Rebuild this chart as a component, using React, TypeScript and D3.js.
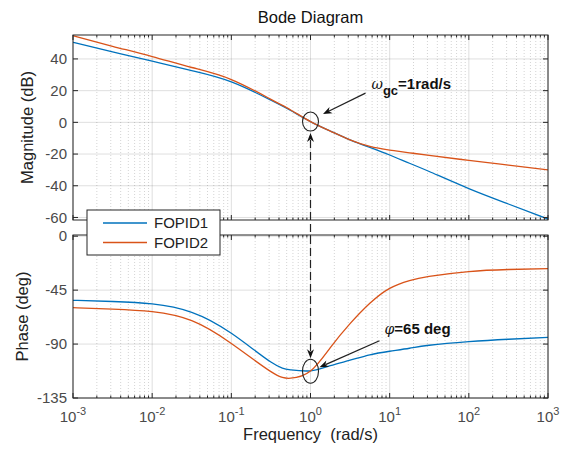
import React from 'react';
import * as d3 from 'd3';

// frequency points (rad/s)
const freqs = [0.001, 0.00316, 0.01, 0.0316, 0.1, 0.316, 0.562, 1, 1.78, 3.16, 5.62, 10, 17.8, 31.6, 100, 316, 1000];

// magnitude (dB)
const magFOPID1 = [50.5, 44.5, 38.6, 32.6, 25.5, 14, 7.5, 0.5, -5.5, -11, -15.8, -20.6, -25.8, -31, -41.8, -51.5, -61];
const magFOPID2 = [54.7, 48, 41.5, 34.6, 27, 14.5, 7.8, 0.5, -5.5, -11, -15.2, -17.5, -19.2, -20.8, -24, -27, -30];

// phase (deg)
const phFOPID1 = [-53.5, -54.5, -56.5, -63.5, -81, -105, -111.5, -112.3, -108, -103.5, -99, -96, -93.5, -91, -88, -86, -84.5];
const phFOPID2 = [-59.6, -60.8, -63, -70.5, -89.5, -113, -118.5, -112.5, -93, -73, -56, -43.5, -37, -33.5, -29.5, -27.8, -27];

const seriesNames = ['FOPID1', 'FOPID2'];
const seriesColors = ['#0072BD', '#D95319'];

const xTickExps = [-3, -2, -1, 0, 1, 2, 3];
const magTicks = [-60, -40, -20, 0, 20, 40];
const phTicks = [-135, -90, -45, 0];

// annotation anchors in data units
const gcFreq = 1;
const gcMag = 0.5;
const pmPhase = -112.7;

const FONT = '"Liberation Sans", Arial, Helvetica, sans-serif';
const W = 570;
const H = 451;

const L = 73, R = 548;
const magTop = 35, magBot = 220;
const phTop = 235, phBot = 398;

const x = d3.scaleLog().domain([1e-3, 1e3]).range([L, R]);
const yMag = d3.scaleLinear().domain([-61.6, 55.1]).range([magBot, magTop]);
const yPh = d3.scaleLinear().domain([-135, 1]).range([phBot, phTop]);

const minorFreqs: number[] = [];
for (let e = -3; e < 3; e++) {
  for (let m = 2; m <= 9; m++) minorFreqs.push(m * Math.pow(10, e));
}

function arrowHead(tx: number, ty: number, fx: number, fy: number, len = 9, wid = 7) {
  const dx = tx - fx, dy = ty - fy;
  const d = Math.hypot(dx, dy);
  const ux = dx / d, uy = dy / d;
  const nx = -uy, ny = ux;
  const bx = tx - ux * len, by = ty - uy * len;
  const mx = tx - ux * len * 0.7, my = ty - uy * len * 0.7;
  return `M${tx},${ty}L${bx + nx * wid / 2},${by + ny * wid / 2}L${mx},${my}L${bx - nx * wid / 2},${by - ny * wid / 2}Z`;
}

function Panel({ top, bot, y, ticks, data }: any) {
  const line = d3.line<number>()
    .x((_, i) => x(freqs[i]))
    .y(d => y(d))
    .curve(d3.curveNatural);
  const clipId = `clip${top}`;
  return (
    <g>
      <clipPath id={clipId}>
        <rect x={L} y={top} width={R - L} height={bot - top} />
      </clipPath>
      {/* grid */}
      {minorFreqs.map(f => (
        <line key={'mg' + f} x1={x(f)} x2={x(f)} y1={top} y2={bot}
          stroke="#262626" strokeOpacity={0.2} strokeDasharray="1,2" />
      ))}
      {xTickExps.map(e => (
        <line key={'gx' + e} x1={x(Math.pow(10, e))} x2={x(Math.pow(10, e))} y1={top} y2={bot}
          stroke="#262626" strokeOpacity={0.15} />
      ))}
      {ticks.map((t: number) => (
        <line key={'gy' + t} x1={L} x2={R} y1={y(t)} y2={y(t)} stroke="#262626" strokeOpacity={0.15} />
      ))}
      {/* curves */}
      <g clipPath={`url(#${clipId})`}>
        {data.map((vals: number[], i: number) => (
          <path key={i} d={line(vals) || ''} fill="none" stroke={seriesColors[i]} strokeWidth={1.3} />
        ))}
      </g>
      {/* ticks */}
      {minorFreqs.map(f => (
        <g key={'mt' + f} stroke="#262626">
          <line x1={x(f)} x2={x(f)} y1={bot} y2={bot - 2.5} />
          <line x1={x(f)} x2={x(f)} y1={top} y2={top + 2.5} />
        </g>
      ))}
      {xTickExps.map(e => (
        <g key={'xt' + e} stroke="#262626">
          <line x1={x(Math.pow(10, e))} x2={x(Math.pow(10, e))} y1={bot} y2={bot - 5} />
          <line x1={x(Math.pow(10, e))} x2={x(Math.pow(10, e))} y1={top} y2={top + 5} />
        </g>
      ))}
      {ticks.map((t: number) => (
        <g key={'yt' + t}>
          <line x1={L} x2={L + 5} y1={y(t)} y2={y(t)} stroke="#262626" />
          <line x1={R} x2={R - 5} y1={y(t)} y2={y(t)} stroke="#262626" />
          <text x={L - 6} y={y(t)} dy="0.35em" textAnchor="end" fontSize={15} fill="#4a4a4a">{t}</text>
        </g>
      ))}
      <rect x={L} y={top} width={R - L} height={bot - top} fill="none" stroke="#262626" strokeWidth={1} />
    </g>
  );
}

export default function App() {
  const gx = x(gcFreq);
  const gy = yMag(gcMag);
  const py = yPh(pmPhase);
  const rxT = 8, ryT = 9.5, rxB = 8, ryB = 12;

  // arrows (start offsets in px from the ellipse centres)
  const a1 = { fx: gx + 55, fy: gy - 28.5, tx: gx + 12.5, ty: gy - 7.5 };
  const a2 = { fx: x(gcFreq) + 69, fy: py - 30.5, tx: x(gcFreq) + 9, ty: py - 4 };
  const upTip = gy + ryT + 2;
  const downTip = py - ryB - 1;

  return (
    <svg width={W} height={H} style={{ position: 'absolute', left: 0, top: 0, background: '#fff' }}
      fontFamily={FONT}>
      <rect width={W} height={H} fill="#fff" />
      <text x={(L + R) / 2} y={23} textAnchor="middle" fontSize={16.5} fill="#111">Bode Diagram</text>

      <Panel top={magTop} bot={magBot} y={yMag} ticks={magTicks} data={[magFOPID1, magFOPID2]} />
      <Panel top={phTop} bot={phBot} y={yPh} ticks={phTicks} data={[phFOPID1, phFOPID2]} />

      {/* x tick labels */}
      {xTickExps.map(e => (
        <text key={'xl' + e} x={x(Math.pow(10, e))} y={422} textAnchor="middle" fontSize={15} fill="#4a4a4a">
          10<tspan dy={-7} fontSize={11}>{e}</tspan>
        </text>
      ))}

      <text x={(L + R) / 2} y={440} textAnchor="middle" fontSize={16.5} fill="#222" xmlSpace="preserve">Frequency  (rad/s)</text>
      <text transform={`translate(33,${(magTop + magBot) / 2}) rotate(-90)`} textAnchor="middle" fontSize={16.5} fill="#222">Magnitude (dB)</text>
      <text transform={`translate(28,${(phTop + phBot) / 2}) rotate(-90)`} textAnchor="middle" fontSize={16.5} fill="#222">Phase (deg)</text>

      {/* annotations */}
      <ellipse cx={gx} cy={gy} rx={rxT} ry={ryT} fill="none" stroke="#222" strokeWidth={1.1} />
      <ellipse cx={x(gcFreq)} cy={py} rx={rxB} ry={ryB} fill="none" stroke="#222" strokeWidth={1.1} />
      <line x1={gx} x2={gx} y1={upTip + 7} y2={downTip - 7} stroke="#222" strokeWidth={1.2} strokeDasharray="8,4" />
      <path d={arrowHead(gx, upTip, gx, upTip + 10)} fill="#111" />
      <path d={arrowHead(gx, downTip, gx, downTip - 10)} fill="#111" />

      <line x1={a1.fx} y1={a1.fy} x2={a1.tx - (a1.tx - a1.fx) * 0.12} y2={a1.ty - (a1.ty - a1.fy) * 0.12} stroke="#222" strokeWidth={1.3} />
      <path d={arrowHead(a1.tx, a1.ty, a1.fx, a1.fy)} fill="#111" />
      <line x1={a2.fx} y1={a2.fy} x2={a2.tx - (a2.tx - a2.fx) * 0.1} y2={a2.ty - (a2.ty - a2.fy) * 0.1} stroke="#222" strokeWidth={1.3} />
      <path d={arrowHead(a2.tx, a2.ty, a2.fx, a2.fy)} fill="#111" />

      <text x={a1.fx + 6} y={a1.fy - 4} fontSize={15} fill="#111">
        <tspan fontStyle="italic" fontFamily="'DejaVu Serif', serif" fontSize={14}>ω</tspan>
        <tspan dy={6} fontSize={13} fontWeight="bold">gc</tspan>
        <tspan dy={-6} fontWeight="bold">=1rad/s</tspan>
      </text>
      <text x={a2.fx + 5} y={a2.fy - 7} fontSize={15} fill="#111">
        <tspan fontStyle="italic" fontFamily="'DejaVu Serif', serif" fontSize={14}>φ</tspan>
        <tspan fontWeight="bold">=65 deg</tspan>
      </text>

      {/* legend */}
      <g>
        <rect x={87} y={210} width={133} height={45} fill="#fff" stroke="#262626" strokeWidth={1} />
        {seriesNames.map((n, i) => (
          <g key={n}>
            <line x1={103} x2={147} y1={223 + i * 19.5} y2={223 + i * 19.5} stroke={seriesColors[i]} strokeWidth={1.3} />
            <text x={154} y={223 + i * 19.5} dy="0.35em" fontSize={15} fill="#222">{n}</text>
          </g>
        ))}
      </g>
    </svg>
  );
}
